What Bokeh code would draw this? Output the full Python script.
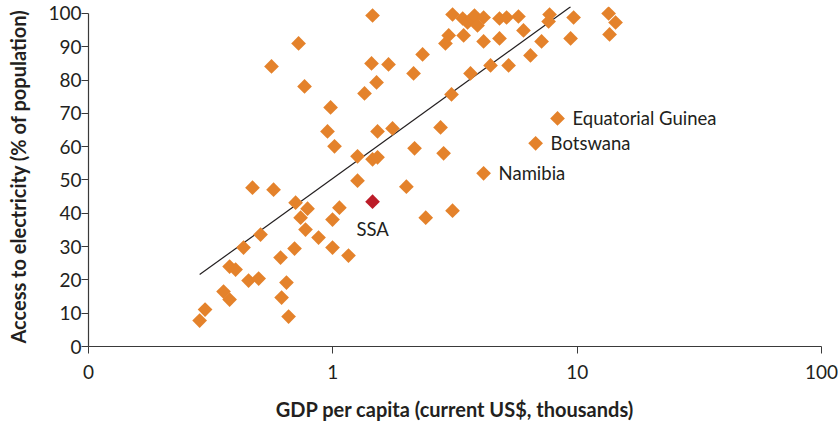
from bokeh.plotting import figure
from bokeh.models import FixedTicker, CustomJSTickFormatter, ColumnDataSource
from bokeh.core.properties import value
from bokeh.embed import file_html
from bokeh.resources import INLINE
import math

# ---- data (GDP per capita, thousands US$; access to electricity, %) ----
gdp = [0.285, 0.30, 0.357, 0.378, 0.378, 0.40, 0.431, 0.452, 0.497, 0.506,
       0.469, 0.572, 0.561, 0.611, 0.617, 0.646, 0.659, 0.697, 0.704, 0.724,
       0.738, 0.766, 0.773, 0.788, 0.874, 0.951, 0.979, 0.997, 0.997, 1.016,
       1.064, 1.159, 1.262, 1.262, 1.348, 1.44, 1.454, 1.454, 1.524, 1.51,
       1.524, 1.69, 1.755, 2.0, 2.14, 2.16, 2.33, 2.40, 2.76, 2.84,
       2.89, 2.98, 3.06, 3.09, 3.09, 3.43, 3.40, 3.56, 3.66, 3.73,
       3.80, 3.91, 4.14, 4.14, 4.14, 4.42, 4.81, 4.81, 5.14, 5.24,
       5.75, 6.03, 6.44, 6.76, 7.15, 7.64, 7.71, 8.31, 9.40, 9.67,
       13.45, 13.57, 14.36]
access = [7.8, 11.1, 16.5, 14.1, 24.0, 23.1, 29.7, 19.8, 20.4, 33.6,
          47.7, 47.1, 84.1, 26.7, 14.7, 19.2, 9.0, 29.4, 43.2, 91.0,
          38.7, 78.1, 35.1, 41.4, 32.7, 64.6, 71.8, 38.1, 29.7, 60.1,
          41.7, 27.3, 49.8, 57.1, 76.0, 85.0, 99.4, 56.2, 56.8, 79.3,
          64.6, 84.7, 65.5, 48.0, 82.0, 59.5, 87.7, 38.7, 65.8, 58.0,
          91.0, 93.4, 75.7, 99.7, 40.8, 93.4, 98.5, 97.3, 82.0, 98.5,
          99.4, 96.4, 98.8, 91.6, 52.0, 84.4, 98.5, 92.5, 98.8, 84.4,
          99.1, 94.9, 87.4, 61.0, 91.6, 97.6, 99.7, 68.5, 92.5, 98.8,
          100.0, 93.7, 97.3]

ssa_gdp = [1.454]
ssa_access = [43.5]

label_names = ["Equatorial Guinea", "Botswana", "Namibia"]
label_gdp = [8.31, 6.76, 4.14]
label_access = [68.5, 61.0, 52.0]

ssa_label = ["SSA"]

trend_gdp = [0.285, 9.4]
trend_access = [21.6, 102.0]

x_tick_values = [0.1, 1, 10, 100]
x_tick_labels = ["0", "1", "10", "100"]
y_tick_values = [0, 10, 20, 30, 40, 50, 60, 70, 80, 90, 100]

ORANGE = "#E4822B"
RED = "#BC1C28"
TEXT = "#231F20"
FONT = "Lato"

p = figure(width=838, height=424, x_axis_type="log",
           x_range=(0.1, 100), y_range=(0, 102.1),
           output_backend="svg", toolbar_location=None,
           min_border_left=88, min_border_right=17,
           min_border_top=6, min_border_bottom=78)
p.outline_line_color = None
p.xgrid.visible = False
p.ygrid.visible = False
p.background_fill_color = "white"
p.border_fill_color = "white"

# trend line
p.line(trend_gdp, trend_access, line_color=TEXT, line_width=1.2)

# points
p.scatter(gdp, access, marker="square", size=10.4, angle=math.pi / 4,
          fill_color=ORANGE, line_color=None)
p.scatter(ssa_gdp, ssa_access, marker="square", size=10.4, angle=math.pi / 4,
          fill_color=RED, line_color=None)

# labels
src = ColumnDataSource(dict(x=label_gdp, y=label_access, t=label_names))
p.text(x="x", y="y", text="t", source=src, x_offset=15,
       text_baseline="middle", text_align="left",
       text_font=value(FONT), text_font_size="18.5px", text_color=TEXT)
p.text(x=ssa_gdp, y=ssa_access, text=ssa_label, y_offset=27,
       text_baseline="middle", text_align="center",
       text_font=value(FONT), text_font_size="18.5px", text_color=TEXT)

# axes
xa = p.xaxis[0]
xa.ticker = FixedTicker(ticks=x_tick_values)
xa.formatter = CustomJSTickFormatter(
    args=dict(vals=x_tick_values, labs=x_tick_labels),
    code="""
    for (let i = 0; i < vals.length; i++) {
        if (Math.abs(vals[i] - tick) < 1e-9 * Math.max(1, vals[i])) return labs[i];
    }
    return '';
    """)
xa.bounds = (0.1, 100)
xa.minor_tick_line_color = None
xa.major_tick_out = 7
xa.major_tick_in = 0
xa.major_label_standoff = 11
xa.axis_label = "GDP per capita (current US$, thousands)"
xa.axis_label_standoff = 15

ya = p.yaxis[0]
ya.ticker = FixedTicker(ticks=y_tick_values)
ya.bounds = (0, 100)
ya.minor_tick_line_color = None
ya.major_tick_out = 7
ya.major_tick_in = 0
ya.major_label_standoff = 0
ya.axis_label = "Access to electricity (% of population)"
ya.axis_label_standoff = 15

for ax in (xa, ya):
    ax.axis_line_color = "#3a3a3a"
    ax.major_tick_line_color = "#3a3a3a"
    ax.axis_line_width = 1.2
    ax.major_label_text_font = FONT
    ax.major_label_text_font_size = "19px"
    ax.major_label_text_color = TEXT
    ax.axis_label_text_font = FONT
    ax.axis_label_text_font_size = "20px"
    ax.axis_label_text_font_style = "bold"
    ax.axis_label_text_color = TEXT

open("out.html", "w").write(file_html(p, INLINE))
